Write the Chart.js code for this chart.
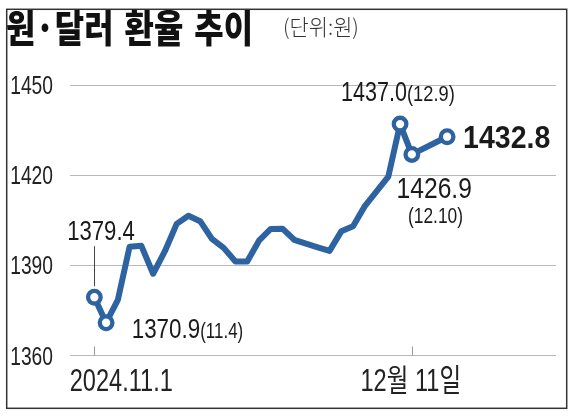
<!DOCTYPE html>
<html><head><meta charset="utf-8">
<script src="https://cdn.jsdelivr.net/npm/chart.js@4/dist/chart.umd.min.js"></script>
<style>html,body{margin:0;padding:0;background:#fff;}#wrap{width:576px;height:417px;}</style>
</head><body><div id="wrap"><canvas id="c" width="576" height="417"></canvas></div>
<script>
// ---- data ----
const dates = ['11.1','11.4','11.5','11.6','11.7','11.8','11.11','11.12','11.13','11.14','11.15',
  '11.18','11.19','11.20','11.21','11.22','11.25','11.26','11.27','11.28','11.29',
  '12.2','12.3','12.4','12.5','12.6','12.9','12.10','12.11'];
const values = [1379.4,1370.9,1378.5,1396.2,1396.5,1387.2,1394.7,1403.8,1406.5,1404.7,1398.8,
  1395.8,1391.3,1391.3,1398.2,1402.1,1402.2,1398.5,1397.2,1396.0,1394.8,
  1401.3,1403.0,1409.7,1414.6,1419.5,1437.0,1426.9,1432.8];
// position of each point along the drawn time axis (trading-day slots)
const xPos = [0,1,2,3,4,5,6,7,8,9,10,11,12,13,14,15,16,17,18,19,20,21,22,23,24,25,26,27,30];
const yTickValues = [1360,1390,1420,1450];
const xTickValues = [0,27];
const xTickLabels = ['2024.11.1','12월 11일'];
const titleText = '원·달러 환율 추이';
const unitText = '(단위:원)';
const markedIdx = [0,1,26,27,28];

// ---- styles ----
const BLUE = '#2c63a0';
const NUM = '"Liberation Sans", "Noto Sans CJK KR", sans-serif';
const CJK = '"Noto Sans CJK KR", sans-serif';
const labelSpecs = [
  {i:0,  parts:[['v',28,0.79]], align:'center', dx:6.7, dy:-57},
  {i:1,  parts:[['v',28,0.8],['d',22,0.77]], align:'left', dx:25.6, dy:15},
  {i:26, parts:[['v',28,0.77],['d',22,0.83]], align:'left', dx:-59, dy:-23},
  {i:27, parts:[['v',30,0.82]], align:'center', dx:22.4, dy:43.5},
  {i:27, parts:[['d',22,0.79]], align:'center', dx:23.7, dy:69},
  {i:28, parts:[['v',32,0.89,true]], align:'left', dx:16, dy:11}
];
const xLabelDx = [26.8, -1.7];

function drawScaled(ctx, text, x, y, font, sx, align){
  ctx.save();
  ctx.font = font;
  const w = ctx.measureText(text).width * sx;
  const left = align === 'center' ? x - w / 2 : (align === 'right' ? x - w : x);
  ctx.translate(left, y); ctx.scale(sx, 1);
  ctx.textAlign = 'left'; ctx.textBaseline = 'alphabetic';
  ctx.fillText(text, 0, 0);
  ctx.restore();
  return w;
}

const deco = {
  id:'deco',
  afterDatasetsDraw(chart){
    const ctx = chart.ctx, ca = chart.chartArea;
    const xs = chart.scales.x, ys = chart.scales.y;
    const pts = chart.getDatasetMeta(0).data;
    ctx.save();
    // frame
    ctx.strokeStyle = '#333'; ctx.lineWidth = 1.5;
    ctx.strokeRect(6.7, 9.3, 560, 399);
    // title (word by word)
    ctx.fillStyle = '#111';
    let tx = 6;
    titleText.split(' ').forEach(word => {
      tx += drawScaled(ctx, word, tx, 41.5, '900 38px ' + CJK, 0.84, 'left') + 11;
    });
    ctx.fillStyle = '#333';
    drawScaled(ctx, unitText, 283, 35, '300 21.5px ' + CJK, 0.97, 'left');
    // y tick labels
    ctx.fillStyle = '#222';
    ys.ticks.forEach(t => {
      drawScaled(ctx, String(t.value), ca.left - 17, ys.getPixelForValue(t.value) + 9, '25px ' + NUM, 0.77, 'right');
    });
    // x ticks
    ctx.strokeStyle = '#999'; ctx.lineWidth = 1;
    xs.ticks.forEach((t, k) => {
      const px = Math.round(xs.getPixelForValue(t.value)) + 0.5;
      ctx.beginPath(); ctx.moveTo(px, ca.bottom - 9); ctx.lineTo(px, ca.bottom); ctx.stroke();
      ctx.fillStyle = '#222';
      drawScaled(ctx, xTickLabels[k], px + xLabelDx[k], 390.5, '31px ' + NUM, 0.76, 'center');
    });
    // leader line
    const p0 = pts[0];
    ctx.strokeStyle = '#444'; ctx.lineWidth = 1;
    ctx.beginPath(); ctx.moveTo(Math.round(p0.x)+0.5, p0.y - 51); ctx.lineTo(Math.round(p0.x)+0.5, p0.y - 11); ctx.stroke();
    // data labels
    labelSpecs.forEach(s => {
      const p = pts[s.i];
      const segs = s.parts.map(([kind, size, sx, bold]) => ({
        text: kind === 'v' ? values[s.i].toFixed(1) : '(' + dates[s.i] + ')',
        font: (bold ? 'bold ' : '') + size + 'px ' + NUM, sx
      }));
      let total = 0;
      segs.forEach(g => { ctx.font = g.font; g.w = ctx.measureText(g.text).width * g.sx; total += g.w; });
      let x = p.x + s.dx - (s.align === 'center' ? total / 2 : 0);
      ctx.fillStyle = '#1a1a1a';
      segs.forEach(g => { drawScaled(ctx, g.text, x, p.y + s.dy, g.font, g.sx, 'left'); x += g.w; });
    });
    ctx.restore();
  }
};

new Chart(document.getElementById('c'), {
  type:'line',
  data:{ datasets:[{
    data: values.map((v, k) => ({x: xPos[k], y: v})),
    borderColor: BLUE, borderWidth: 6, tension: 0,
    borderJoinStyle:'round', borderCapStyle:'round',
    pointRadius: c => markedIdx.includes(c.dataIndex) ? 6.3 : 0,
    pointBorderWidth: 4.3, pointBackgroundColor:'#fff', pointBorderColor: BLUE,
    clip: false
  }]},
  options:{
    responsive:false, animation:false, devicePixelRatio:1,
    layout:{ padding:{ left:0, right:20, top:85, bottom:0 } },
    plugins:{ legend:{display:false}, tooltip:{enabled:false} },
    scales:{
      x:{ type:'linear', min:-2.07, max:39.26,
        afterBuildTicks: s => { s.ticks = xTickValues.map(v => ({value:v})); },
        afterFit: s => { s.height = 61.5; },
        grid:{display:false}, border:{display:false}, ticks:{display:false} },
      y:{ type:'linear', min:1360, max:1450,
        afterBuildTicks: s => { s.ticks = yTickValues.map(v => ({value:v})); },
        afterFit: s => { s.width = 70; },
        grid:{ color:'#b8b8b8', lineWidth:1, drawTicks:false },
        border:{display:false},
        ticks:{ display:false } }
    }
  },
  plugins:[deco]
});
</script></body></html>
